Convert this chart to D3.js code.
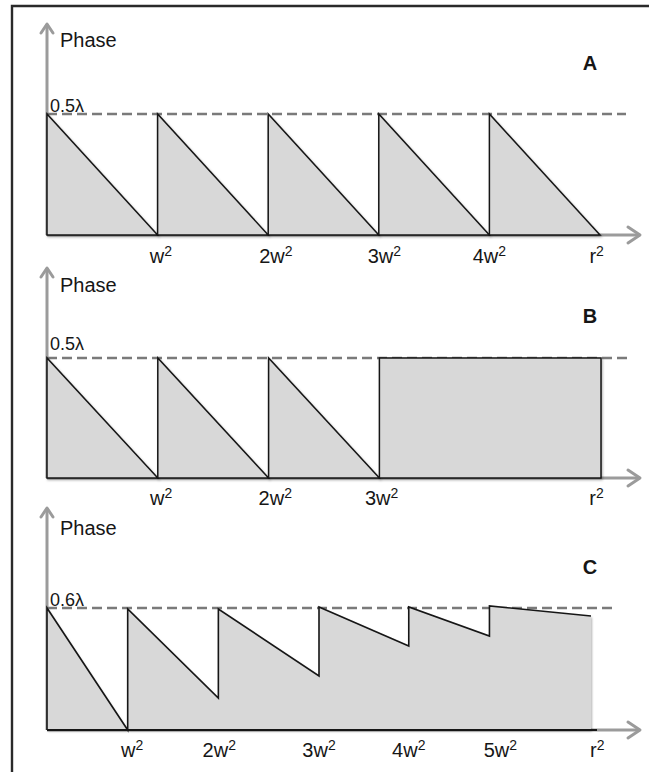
<!DOCTYPE html>
<html>
<head>
<meta charset="utf-8">
<script src="https://cdn.jsdelivr.net/npm/d3@7"></script>
<style>
  html, body { margin: 0; padding: 0; background: #fff; }
  svg { display: block; font-family: "Liberation Sans", Arial, sans-serif; }
</style>
</head>
<body>
<script>
// Zone boundaries along r² (in units of w²) and the phase (in λ) at the start and end of each zone
const zonesA = [0, 1, 2, 3, 4, 5];
const startA = [0.5, 0.5, 0.5, 0.5, 0.5];
const endA   = [0, 0, 0, 0, 0];

const zonesB = [0, 1, 2, 3, 5];
const startB = [0.5, 0.5, 0.5, 0.5];
const endB   = [0, 0, 0, 0.5];

const zonesC = [0, 0.89, 1.89, 3.0, 3.99, 4.88, 6.0];
const startC = [0.6, 0.595, 0.595, 0.605, 0.605, 0.61];
const endC   = [0, 0.157, 0.266, 0.413, 0.462, 0.561];

// Axis tick labels (each carries a superscript 2) and where they sit along r²
const tickLabelsA = ["w", "2w", "3w", "4w", "r"];
const tickValuesA = [1.03, 2.07, 3.05, 4.0, 4.97];
const tickLabelsB = ["w", "2w", "3w", "r"];
const tickValuesB = [1.03, 2.06, 3.02, 4.96];
const tickLabelsC = ["w", "2w", "3w", "4w", "5w", "r"];
const tickValuesC = [0.94, 1.9, 3.0, 3.99, 5.0, 6.07];

// Reference phase level of each panel
const refA = 0.5, refB = 0.5, refC = 0.6;
const refLabelA = "0.5λ", refLabelB = "0.5λ", refLabelC = "0.6λ";

const W = 649, H = 772;
const FILL = "#d8d8d8", AXIS = "#9b9b9b", DASH = "#7a7a7a", INK = "#161616";

const svg = d3.select("body").append("svg").attr("width", W).attr("height", H);

const defs = svg.append("defs");
const shadow = defs.append("filter").attr("id", "shadow")
  .attr("x", "-5%").attr("y", "-5%").attr("width", "115%").attr("height", "115%");
shadow.append("feDropShadow").attr("dx", 1).attr("dy", 1.5)
  .attr("stdDeviation", 1).attr("flood-color", "#000").attr("flood-opacity", 0.3);

// outer frame (right and bottom edges run past the canvas)
svg.append("path")
  .attr("d", `M12,${H + 5}V6H${W + 5}`)
  .attr("fill", "none").attr("stroke", "#2a2a2a").attr("stroke-width", 2.4);

const panels = [
  { letter: "A", zones: zonesA, start: startA, end: endA, ref: refA, refLabel: refLabelA,
    ticks: tickValuesA, tickLabels: tickLabelsA, domain: [0, 5], xr: [47, 600],
    base: 235, refY: 114, axisTop: 24, phaseY: 47, refLabelY: 112, letterY: 70, tickY: 263,
    dashEnd: 626, continuous: false },
  { letter: "B", zones: zonesB, start: startB, end: endB, ref: refB, refLabel: refLabelB,
    ticks: tickValuesB, tickLabels: tickLabelsB, domain: [0, 5], xr: [47, 601],
    base: 478, refY: 358, axisTop: 268, phaseY: 292, refLabelY: 350, letterY: 323, tickY: 505,
    dashEnd: 629, continuous: false },
  { letter: "C", zones: zonesC, start: startC, end: endC, ref: refC, refLabel: refLabelC,
    ticks: tickValuesC, tickLabels: tickLabelsC, domain: [0, 6], xr: [47, 591],
    base: 730, refY: 608, axisTop: 508, phaseY: 535, refLabelY: 606, letterY: 574, tickY: 757,
    dashEnd: 617, continuous: true }
];

panels.forEach(p => {
  const x = d3.scaleLinear().domain(p.domain).range(p.xr);
  const y = d3.scaleLinear().domain([0, p.ref]).range([p.base, p.refY]);
  const g = svg.append("g");
  const x0 = x(0);

  // gray axes with open arrowheads
  g.append("line").attr("x1", x0).attr("x2", 640).attr("y1", p.base).attr("y2", p.base)
    .attr("stroke", AXIS).attr("stroke-width", 3);
  g.append("path").attr("d", `M628,${p.base - 8}L640,${p.base}L628,${p.base + 8}`)
    .attr("fill", "none").attr("stroke", AXIS).attr("stroke-width", 3)
    .attr("stroke-linecap", "round").attr("stroke-linejoin", "round");
  g.append("line").attr("x1", x0).attr("x2", x0).attr("y1", p.base).attr("y2", p.axisTop)
    .attr("stroke", AXIS).attr("stroke-width", 3);
  g.append("path").attr("d", `M${x0 - 6},${p.axisTop + 9}L${x0},${p.axisTop}L${x0 + 6},${p.axisTop + 9}`)
    .attr("fill", "none").attr("stroke", AXIS).attr("stroke-width", 3)
    .attr("stroke-linecap", "round").attr("stroke-linejoin", "round");

  // reference phase level
  g.append("line").attr("x1", x0).attr("x2", p.dashEnd).attr("y1", y(p.ref)).attr("y2", y(p.ref))
    .attr("stroke", DASH).attr("stroke-width", 2.5).attr("stroke-dasharray", "10,5");

  const segs = p.start.map((s, i) => ({ x0: p.zones[i], x1: p.zones[i + 1], s, e: p.end[i] }));

  if (!p.continuous) {
    // one closed outline per zone
    g.selectAll("path.zone").data(segs).join("path").attr("class", "zone")
      .attr("d", d => `M${x(d.x0)},${y(0)}L${x(d.x0)},${y(d.s)}L${x(d.x1)},${y(d.e)}L${x(d.x1)},${y(0)}Z`)
      .attr("fill", FILL).attr("stroke", INK).attr("stroke-width", 1.5)
      .attr("stroke-linejoin", "miter").attr("filter", "url(#shadow)");
  } else {
    // one filled profile, outlined along the top and the base only
    const pts = [];
    segs.forEach(d => { pts.push([d.x0, d.s]); pts.push([d.x1, d.e]); });
    const area = d3.area().x(d => x(d[0])).y0(y(0)).y1(d => y(d[1]));
    g.append("path").datum(pts).attr("d", area).attr("fill", FILL).attr("filter", "url(#shadow)");
    const line = d3.line().x(d => x(d[0])).y(d => y(d[1]));
    g.append("path").datum([[0, 0], ...pts]).attr("d", line)
      .attr("fill", "none").attr("stroke", INK).attr("stroke-width", 1.6);
    g.append("line").attr("x1", x0).attr("x2", x(p.domain[1]) + 6).attr("y1", y(0)).attr("y2", y(0))
      .attr("stroke", INK).attr("stroke-width", 2);
  }

  // texts
  g.append("text").attr("x", 60).attr("y", p.phaseY).attr("font-size", 20).attr("fill", INK).text("Phase");
  g.append("text").attr("x", 50).attr("y", p.refLabelY).attr("font-size", 18).attr("fill", INK).text(p.refLabel);
  g.append("text").attr("x", 590).attr("y", p.letterY).attr("text-anchor", "middle")
    .attr("font-size", 20).attr("font-weight", "bold").attr("fill", INK).text(p.letter);

  const t = g.selectAll("text.tick").data(p.ticks).join("text").attr("class", "tick")
    .attr("x", d => x(d)).attr("y", p.tickY).attr("text-anchor", "middle")
    .attr("font-size", 20).attr("fill", INK);
  t.append("tspan").text((d, i) => p.tickLabels[i]);
  t.append("tspan").attr("font-size", 14).attr("dy", -7).text("2");
});
</script>
</body>
</html>
